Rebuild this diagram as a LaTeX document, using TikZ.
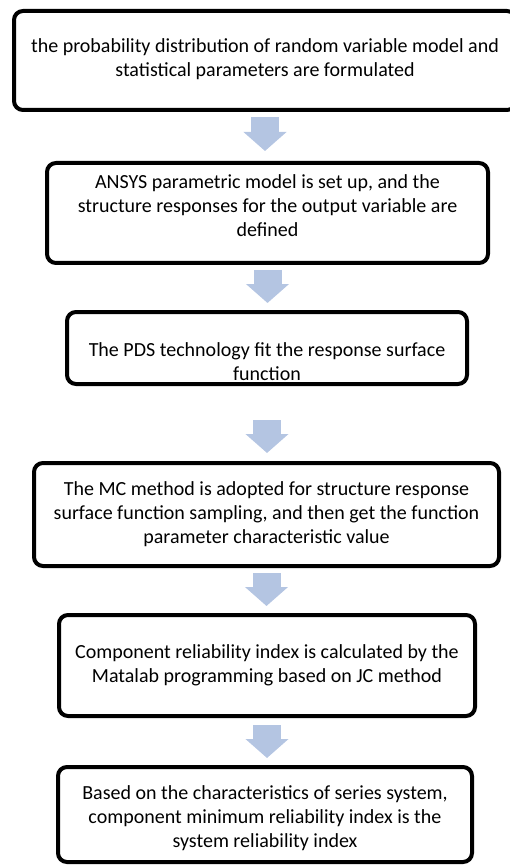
\documentclass[tikz,border=0pt]{standalone}
\usepackage{fontspec}
\setmainfont{Carlito}
\usetikzlibrary{arrows.meta}
\definecolor{arrowblue}{RGB}{180,197,226}

\tikzset{
  stepbox/.style={draw, line width=4pt, rounded corners=9pt, inner sep=0pt},
  steptext/.style={inner sep=0pt, align=center, font=\fontsize{20pt}{24pt}\selectfont},
  flowarrow/.style={arrowblue, line width=28pt, -{Triangle[width=42pt,length=19pt]}}
}

\begin{document}
\begin{tikzpicture}[x=1pt,y=-1pt]

\useasboundingbox (0,0) rectangle (509,866);

% boxes
\node [stepbox, minimum width=502pt, minimum height=99pt] (b1) at (265,60.5) {};
\node [stepbox, minimum width=441pt, minimum height=100pt] (b2) at (267.5,213) {};
\node [stepbox, minimum width=400pt, minimum height=72pt] (b3) at (267,348) {};
\node [stepbox, minimum width=465pt, minimum height=103pt] (b4) at (266.5,514.5) {};
\node [stepbox, minimum width=416pt, minimum height=101pt] (b5) at (267,665.5) {};
\node [stepbox, minimum width=414pt, minimum height=95pt] (b6) at (265,814.5) {};

% texts
\node [steptext] (t1) at ([yshift=1.5pt]b1.center)
  {the probability distribution of random variable model and\\ statistical parameters are formulated};
\node [steptext] (t2) at ([yshift=7pt]b2.center)
  {ANSYS parametric model is set up, and the\\ structure responses for the output variable are\\ defined};
\node [steptext] (t3) at ([yshift=-14pt]b3.center)
  {The PDS technology fit the response surface\\ function};
\node [steptext] (t4) at (b4.center)
  {The MC method is adopted for structure response\\ surface function sampling, and then get the function\\ parameter characteristic value};
\node [steptext] (t5) at (b5.center)
  {Component reliability index is calculated by the\\ Matalab programming based on JC method};
\node [steptext] (t6) at ([yshift=-4pt]b6.center)
  {Based on the characteristics of series system,\\ component minimum reliability index is the\\ system reliability index};

% arrows
\draw [flowarrow, shorten <=5pt, shorten >=10pt] (b1.south) -- (b1.south |- b2.north);
\draw [flowarrow, shorten <=5pt, shorten >=7pt] (b2.south) -- (b2.south |- b3.north);
\draw [flowarrow, shorten <=34pt, shorten >=8pt] (b3.south) -- (b3.south |- b4.north);
\draw [flowarrow, shorten <=5pt, shorten >=7pt] (b4.south) -- (b4.south |- b5.north);
\draw [flowarrow, shorten <=7pt, shorten >=7pt] (b5.south) -- (b5.south |- b6.north);

\end{tikzpicture}
\end{document}
